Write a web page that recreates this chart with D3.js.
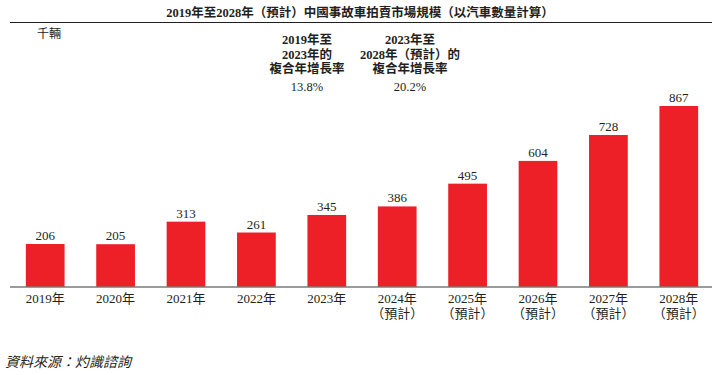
<!DOCTYPE html>
<html lang="zh-Hant">
<head>
<meta charset="UTF-8">
<title>中國事故車拍賣市場規模</title>
<script src="https://d3js.org/d3.v7.min.js"></script>
<style>
  body { margin: 0; background: #fff; }
  text { font-family: "Liberation Serif", "Noto Sans CJK TC", serif; fill: #231f20; }
</style>
</head>
<body>
<div class="canvas"></div>
<script>
  const years = ['2019年', '2020年', '2021年', '2022年', '2023年', '2024年', '2025年', '2026年', '2027年', '2028年']
  const forecast = [false, false, false, false, false, true, true, true, true, true]
  const values = [206, 205, 313, 261, 345, 386, 495, 604, 728, 867]
  const cagrPeriods = [['2019年至', '2023年的', '複合年增長率'], ['2023年至', '2028年（預計）的', '複合年增長率']]
  const cagrValues = ['13.8%', '20.2%']

  const width = 718
  const height = 375

  const svg = d3.select('.canvas')
    .append('svg')
    .attr('width', width)
    .attr('height', height)

  // title + rule under it
  svg.append('text')
    .attr('x', 360).attr('y', 17)
    .attr('text-anchor', 'middle')
    .style('font-size', '12.5px')
    .style('font-weight', 'bold')
    .text('2019年至2028年（預計）中國事故車拍賣市場規模（以汽車數量計算）')

  svg.append('line')
    .attr('x1', 10).attr('x2', 712)
    .attr('y1', 22.5).attr('y2', 22.5)
    .attr('stroke', '#231f20')
    .attr('stroke-width', 1.2)

  svg.append('text')
    .attr('x', 37).attr('y', 38)
    .style('font-size', '12px')
    .text('千輛')

  const x = d3.scaleBand()
    .domain(years)
    .range([10, 714])
    .paddingInner(0.45)
    .paddingOuter(0.225)

  const y = d3.scaleLinear()
    .domain([0, 867])
    .range([287, 106])

  svg.selectAll('rect.bar')
    .data(values)
    .enter()
    .append('rect')
    .attr('class', 'bar')
    .attr('x', (d, i) => x(years[i]))
    .attr('y', d => y(d))
    .attr('width', x.bandwidth())
    .attr('height', d => y(0) - y(d))
    .attr('fill', '#ed1f27')

  svg.selectAll('text.val')
    .data(values)
    .enter()
    .append('text')
    .attr('class', 'val')
    .attr('x', (d, i) => x(years[i]) + x.bandwidth() / 2)
    .attr('y', d => y(d) - 4)
    .attr('text-anchor', 'middle')
    .style('font-size', '13px')
    .text(d => d)

  // baseline axis
  const xAxis = d3.axisBottom(x).tickSize(0).tickPadding(6).tickFormat('')
  const xAxisG = svg.append('g')
    .attr('transform', `translate(0, ${y(0)})`)
    .call(xAxis)
  xAxisG.select('.domain')
    .attr('d', 'M10,0H712')
    .attr('stroke', '#7a7a7a')
    .attr('stroke-width', 1.5)

  xAxisG.selectAll('.tick').each(function(d, i) {
    const t = d3.select(this)
    t.append('text')
      .attr('y', 16)
      .attr('text-anchor', 'middle')
      .style('font-size', '13px')
      .text(d)
    if (forecast[i]) {
      t.append('text')
        .attr('y', 31)
        .attr('text-anchor', 'middle')
        .style('font-size', '13px')
        .text('（預計）')
    }
  })

  // CAGR annotations
  const cagrX = [307, 410]
  cagrPeriods.forEach((lines, k) => {
    lines.forEach((l, j) => {
      svg.append('text')
        .attr('x', cagrX[k]).attr('y', 44 + j * 14.5)
        .attr('text-anchor', 'middle')
        .style('font-size', '12.5px')
        .style('font-weight', 'bold')
        .text(l)
    })
    svg.append('text')
      .attr('x', cagrX[k]).attr('y', 91)
      .attr('text-anchor', 'middle')
      .style('font-size', '12.5px')
      .text(cagrValues[k])
  })

  svg.append('text')
    .attr('x', 5).attr('y', 367)
    .style('font-size', '14px')
    .style('font-style', 'italic')
    .text('資料來源：灼識諮詢')
</script>
</body>
</html>
